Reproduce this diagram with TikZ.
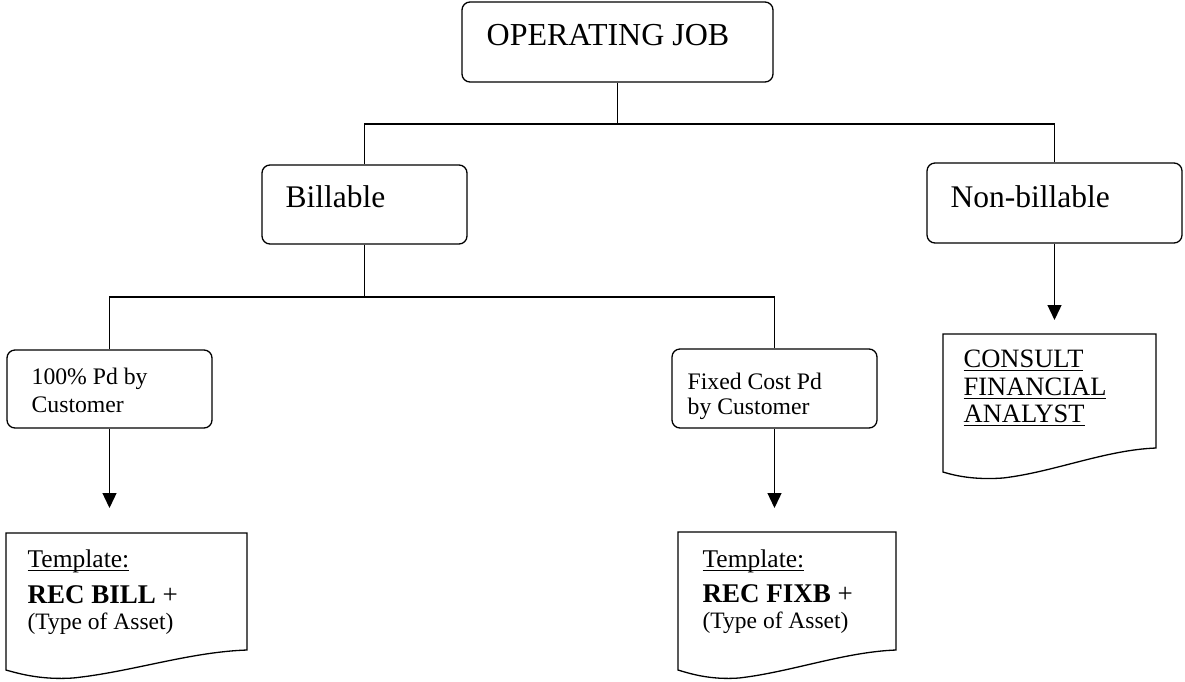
\documentclass[tikz,border=0pt]{standalone}
\usepackage{fontspec}
\setmainfont{Liberation Serif}
\newcommand{\myul}[1]{\leavevmode\setbox0\hbox{#1}\rlap{\rule[-3.5pt]{\wd0}{1pt}}\box0}
\usetikzlibrary{arrows.meta}
\begin{document}
\begin{tikzpicture}[x=1pt,y=-1pt,
  every path/.style={line width=1.3pt},
  box/.style={draw, rounded corners=8pt, inner sep=0pt},
  txt/.style={anchor=base west, inner sep=0pt},
  big/.style={font=\fontsize{31.5}{36}\selectfont},
  small/.style={font=\fontsize{23.7}{28}\selectfont},
  doctext/.style={font=\fontsize{25.5}{30}\selectfont},
  arr/.style={-{Triangle[length=15pt,width=14pt]}},
  docshape/.style={draw, line join=miter}
]
\useasboundingbox (0,0) rectangle (1185,681);

% boxes
\node[box, minimum width=311pt, minimum height=80pt] (job) at (617.5,42) {};
\node[box, minimum width=205pt, minimum height=79pt] (bill) at (364.5,204.5) {};
\node[box, minimum width=255pt, minimum height=80pt] (nonbill) at (1054.5,203) {};
\node[box, minimum width=205pt, minimum height=78pt] (p100) at (109.5,389) {};
\node[box, minimum width=205pt, minimum height=79pt] (fixed) at (774.5,388.5) {};

% box texts
\node[txt, font=\fontsize{32}{38}\selectfont] (jobt) at (486,45) {OPERATING JOB};
\node[txt, big] (billt) at (285,207) {Billable};
\node[txt, big] (nonbillt) at (950,207) {Non-billable};
\node[txt, small] (p100a) at (31,384) {100\% Pd by};
\node[txt, small] (p100b) at (31,412) {Customer};
\node[txt, small] (fixa) at (687,389) {Fixed Cost Pd};
\node[txt, small] (fixb) at (687,414) {by Customer};

% document shapes
\draw[docshape] (6,533) -- (247,533) -- (247,650) .. controls (189,652) and (131,672) .. (73,678) .. controls (42,680) and (20,674) .. (6,670) -- cycle;
\draw[docshape] (678,532) -- (896,532) -- (896,650) .. controls (844,652) and (791,672) .. (739,678) .. controls (711,680) and (691,674) .. (678,670) -- cycle;
\draw[docshape] (943,334) -- (1156,334) -- (1156,448) .. controls (1105,450) and (1054,472) .. (1003,478) .. controls (975,480) and (956,476) .. (943,472) -- cycle;
\coordinate (doc1) at (109.5,533);
\coordinate (doc2) at (774.5,532);
\coordinate (doc3) at (1054.5,334);

% document texts
\node[txt, doctext] (d1a) at (27,567) {\myul{Template:}};
\node[txt, font=\fontsize{27}{30}\selectfont] (d1b) at (27,603) {\textbf{REC BILL} +};
\node[txt, font=\fontsize{23.5}{28}\selectfont] (d1c) at (27,629) {(Type of Asset)};
\node[txt, doctext] (d2a) at (702,567) {\myul{Template:}};
\node[txt, font=\fontsize{27}{30}\selectfont] (d2b) at (702,602) {\textbf{REC FIXB} +};
\node[txt, font=\fontsize{23.5}{28}\selectfont] (d2c) at (702,628) {(Type of Asset)};
\node[txt, font=\fontsize{26.5}{30}\selectfont] (d3a) at (963,367) {\myul{CONSULT}};
\node[txt, font=\fontsize{26.5}{30}\selectfont] (d3b) at (963,395) {\myul{FINANCIAL}};
\node[txt, font=\fontsize{26.5}{30}\selectfont] (d3c) at (963,422) {\myul{ANALYST}};

% connectors
\coordinate (bus1) at (617.5,124);
\coordinate (bus2) at (364.5,297);
\draw (job.south) -- (bus1);
\draw (bill.north) |- (bus1) -| (nonbill.north);
\draw (bill.south) -- (bus2);
\draw (p100.north) |- (bus2) -| (fixed.north);
\draw[arr, shorten >=25pt] (p100.south) -- (doc1);
\draw[arr, shorten >=24pt] (fixed.south) -- (doc2);
\draw[arr, shorten >=14pt] (nonbill.south) -- (doc3);
\end{tikzpicture}
\end{document}
